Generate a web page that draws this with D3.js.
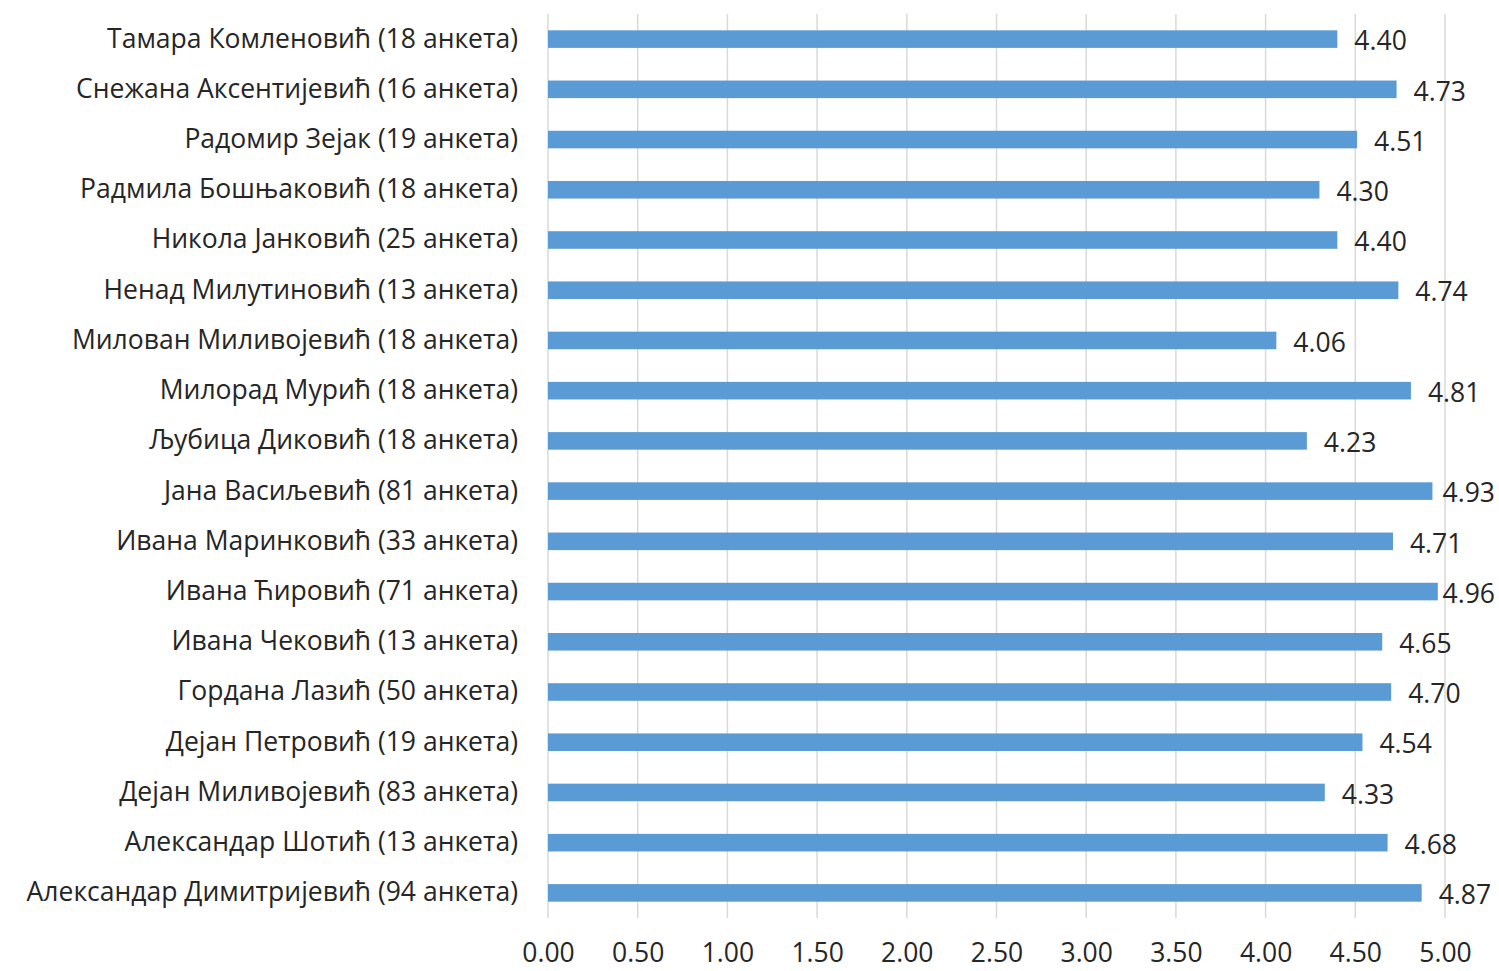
<!DOCTYPE html>
<html>
<head>
<meta charset="utf-8">
<script src="https://cdn.jsdelivr.net/npm/d3@7"></script>
<style>
  html, body { margin: 0; padding: 0; background: #fff; }
  svg { display: block; }
  text { font-family: "Open Sans", Lato, sans-serif; fill: #262626; }
</style>
</head>
<body>
<svg id="chart" width="1499" height="971"></svg>
<script>
const names = [
  "Тамара Комленовић (18 анкета)",
  "Снежана Аксентијевић (16 анкета)",
  "Радомир Зејак (19 анкета)",
  "Радмила Бошњаковић (18 анкета)",
  "Никола Јанковић (25 анкета)",
  "Ненад Милутиновић (13 анкета)",
  "Милован Миливојевић (18 анкета)",
  "Милорад Мурић (18 анкета)",
  "Љубица Диковић (18 анкета)",
  "Јана Васиљевић (81 анкета)",
  "Ивана Маринковић (33 анкета)",
  "Ивана Ћировић (71 анкета)",
  "Ивана Чековић (13 анкета)",
  "Гордана Лазић (50 анкета)",
  "Дејан Петровић (19 анкета)",
  "Дејан Миливојевић (83 анкета)",
  "Александар Шотић (13 анкета)",
  "Александар Димитријевић (94 анкета)"
];
const scores = [4.40, 4.73, 4.51, 4.30, 4.40, 4.74, 4.06, 4.81, 4.23, 4.93, 4.71, 4.96, 4.65, 4.70, 4.54, 4.33, 4.68, 4.87];
const xTicks = [0, 0.5, 1, 1.5, 2, 2.5, 3, 3.5, 4, 4.5, 5];

const FONT = "'Open Sans', Lato, sans-serif";
const FS = 26.5;
const W = 1499;

const svg = d3.select("#chart");
const m = { left: 548, right: 1445, top: 14, bottom: 918 };

const x = d3.scaleLinear().domain([0, 5]).range([m.left, m.right]);
const y = d3.scaleBand().domain(names).range([m.top, m.bottom]).paddingInner(0.65).paddingOuter(0.325);

// gridlines
svg.append("g").selectAll("line").data(xTicks).join("line")
  .attr("x1", d => x(d)).attr("x2", d => x(d))
  .attr("y1", m.top).attr("y2", m.bottom)
  .attr("stroke", "#d9d9d9").attr("stroke-width", 1.5);

// x axis labels
const xAxis = d3.axisBottom(x).tickValues(xTicks).tickFormat(d3.format(".2f")).tickSize(0).tickPadding(0);
const gx = svg.append("g").attr("transform", `translate(0, ${m.bottom + 25})`).call(xAxis);
gx.select(".domain").remove();
gx.selectAll("text").attr("font-size", FS).attr("font-family", FONT).attr("fill", "#262626");

// y axis labels
const yAxis = d3.axisLeft(y).tickSize(0).tickPadding(30);
const gy = svg.append("g").attr("transform", `translate(${m.left}, 0)`).call(yAxis);
gy.select(".domain").remove();
gy.selectAll("text").attr("font-size", FS).attr("font-family", FONT).attr("fill", "#262626");

// bars
svg.append("g").selectAll("rect").data(names).join("rect")
  .attr("x", x(0))
  .attr("y", d => y(d))
  .attr("width", (d, i) => x(scores[i]) - x(0))
  .attr("height", y.bandwidth())
  .attr("fill", "#5b9bd5");

// value labels (kept inside the chart width, like the original)
svg.append("g").selectAll("text").data(names).join("text")
  .attr("y", d => y(d) + y.bandwidth() / 2 + 2)
  .attr("dy", "0.35em")
  .attr("font-size", FS)
  .attr("font-family", FONT)
  .text((d, i) => d3.format(".2f")(scores[i]))
  .each(function(d, i) {
    const w = this.getComputedTextLength();
    const px = Math.min(x(scores[i]) + 17, W - 4 - w);
    d3.select(this).attr("x", px);
  });
</script>
</body>
</html>
